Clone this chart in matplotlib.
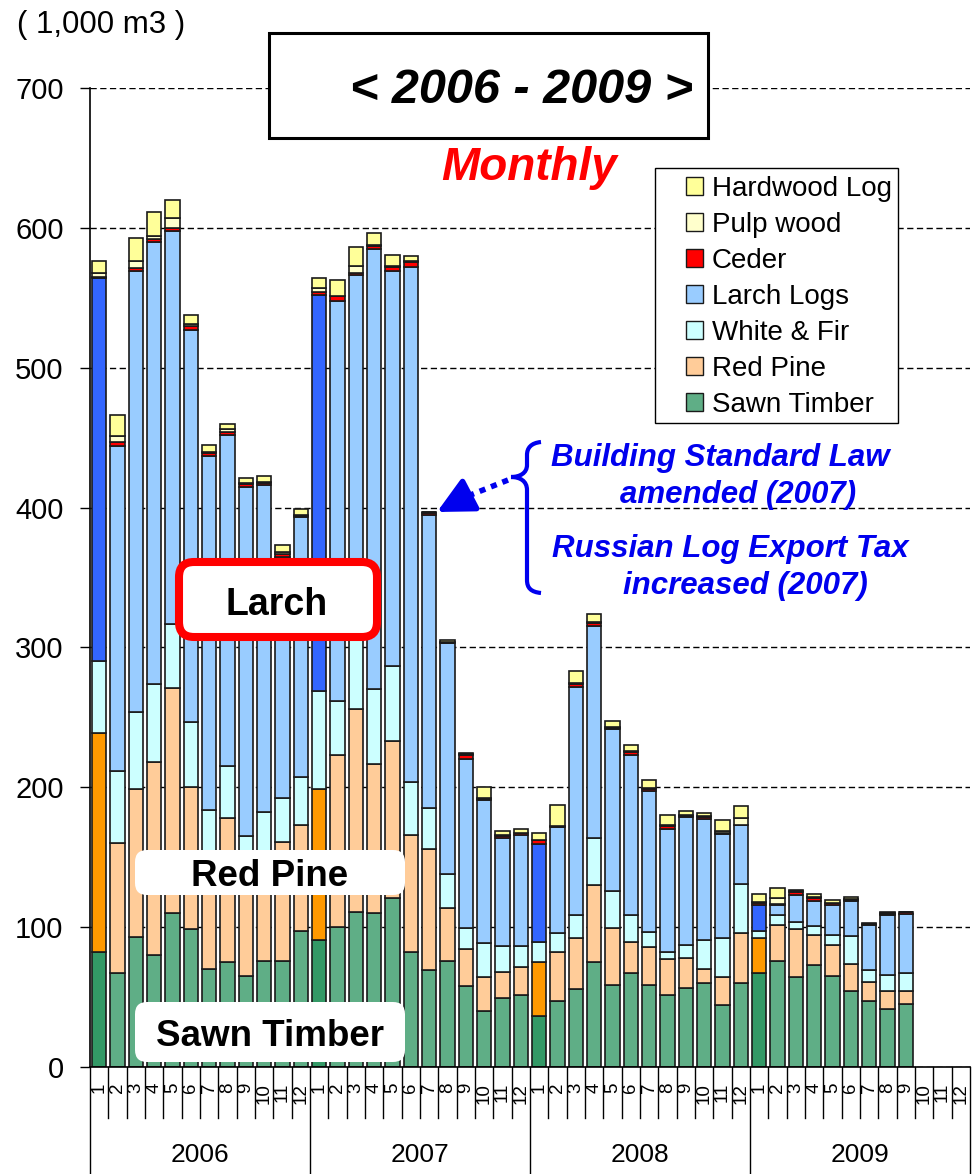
import numpy as np
import matplotlib
matplotlib.use('Agg')
import matplotlib.pyplot as plt
from matplotlib import patches
from matplotlib.path import Path

plt.rcParams['font.family'] = ['Liberation Sans', 'DejaVu Sans']

# data (1,000 m3), Jan 2006 .. Sep 2009
years = ['2006', '2007', '2008', '2009']
month_labels = [str(m) for m in range(1, 13)] * 4

sawn = [82, 67, 93, 80, 110, 99, 70, 75, 65, 76, 76, 97.5,
        91, 100, 111, 110, 121, 82, 69, 76, 58, 40, 49.5, 51.5,
        36.5, 47, 55.5, 75, 58.5, 67, 58.5, 51.5, 56.5, 60, 44.5, 60,
        67.5, 76, 64, 73, 65, 54.5, 47.5, 41.5, 45]
red_pine = [157, 93, 106, 138, 161, 101, 70, 103, 65, 69, 85, 75.5,
            108, 123, 145, 107, 112, 84, 87, 37.5, 26.5, 24.5, 18.5, 20,
            38.5, 35, 37, 55, 41, 22.5, 27, 26, 21.5, 10, 20, 36,
            25, 25.5, 34.5, 21.5, 22, 19.5, 13.5, 12.5, 9]
white_fir = [51, 52, 55, 56, 46, 47, 44, 37, 35, 37, 31.5, 34,
             70, 39, 62, 53, 54, 38, 29, 24.5, 15, 24, 18.5, 15,
             14.5, 14, 16, 34, 26.5, 19.5, 11, 5, 9, 21, 28, 35,
             4.5, 7.5, 5.5, 6.5, 7.5, 19.5, 8.5, 12, 13]
larch = [274, 232, 315, 316, 281, 280, 253, 237, 250, 234, 172.5, 186,
         283, 286, 248, 315, 282, 368, 210, 165, 120.5, 102.5, 77, 79.5,
         70, 75.5, 163, 151, 115.5, 114, 101, 87.5, 92, 86, 74, 42,
         18.5, 6.5, 19, 18, 21.5, 25.5, 32, 43, 42.5]
ceder = [1, 3, 2, 2, 2, 3, 2, 2, 1.5, 1.5, 2, 1,
         2, 3, 2, 2, 3, 3.5, 1, 0.5, 3, 0.5, 2, 1,
         2.5, 0.3, 2.5, 2.5, 1, 2.5, 1, 2.5, 0.5, 2, 1, 0.3,
         2, 1, 2, 2, 1, 0.3, 0.5, 0.5, 1]
pulp = [3, 4, 5, 2, 7, 1, 1, 2, 1, 1, 1, 1,
        3, 0.5, 5, 0.5, 0.5, 0.5, 0.5, 0.5, 0.5, 0.5, 0.5, 0.5,
        0.5, 0.3, 0.5, 0.5, 0.5, 0.5, 1, 0.5, 0.5, 0.5, 1, 5,
        0.5, 4.5, 1, 0.5, 0.5, 0.5, 0.5, 0.5, 0.3]
hardwood = [8, 15, 17, 17, 13, 7, 5, 4, 4, 4, 5, 4,
            7, 11, 13, 9, 8, 4, 0.5, 1.5, 1, 8.5, 2.5, 3,
            4.5, 15, 9, 6, 4.5, 4.5, 6, 7, 3, 2, 8, 8,
            6, 7, 0.8, 2, 2, 1.5, 0.7, 0.5, 0.3]

names = ['Sawn Timber', 'Red Pine', 'White & Fir', 'Larch Logs',
         'Ceder', 'Pulp wood', 'Hardwood Log']
layers = [sawn, red_pine, white_fir, larch, ceder, pulp, hardwood]
colors = ['#5fae86', '#ffcc99', '#ccffff', '#99ccff', '#ff0000', '#ffffcc', '#ffff99']
jan_colors = ['#339966', '#ff9900', '#ccffff', '#3366ff', '#ff0000', '#ffffcc', '#ffff99']

W, H = 978, 1174
fig = plt.figure(figsize=(W / 100, H / 100), dpi=100)
ax = fig.add_axes([90 / W, 1 - 1067 / H, 880 / W, 979 / H])
inch = fig.dpi_scale_trans


def px(x, y):
    """reference pixel (from top-left) -> inches for dpi_scale_trans"""
    return x / 100, (H - y) / 100


x = np.arange(len(sawn)) + 0.5
bottom = np.zeros(len(x))
handles = []
for name, vals, col, jcol in zip(names, layers, colors, jan_colors):
    cols = [jcol if i % 12 == 0 else col for i in range(len(x))]
    ax.bar(x, vals, 0.78, bottom=bottom, color=cols, edgecolor='#1a1a1a',
           linewidth=1.2, zorder=2)
    bottom += np.array(vals)
    handles.append(patches.Patch(facecolor=col, edgecolor='#1a1a1a', linewidth=1))

ax.set_xlim(0, 48)
ax.set_ylim(0, 700)
ax.set_yticks(range(0, 701, 100))
ax.set_xticks([])
ax.tick_params(axis='y', direction='out', length=7, width=1, pad=12, labelsize=21)
ax.yaxis.grid(True, color='black', linestyle=(0, (4.5, 2.5)), linewidth=1)
ax.set_axisbelow(True)
for s in ['top', 'right']:
    ax.spines[s].set_visible(False)
for s in ['left', 'bottom']:
    ax.spines[s].set_linewidth(1.2)

# month / year axis below the plot
xt = ax.get_xaxis_transform()
for i in range(49):
    depth = -0.11 if i % 12 == 0 else -0.052
    ax.plot([i, i], [0, depth], color='black', lw=1, transform=xt, clip_on=False)
for i, lab in enumerate(month_labels):
    ax.text(i + 0.5, -0.016, lab, rotation=90, ha='center', va='top',
            fontsize=13.5, transform=xt)
for k, yr in enumerate(years):
    ax.text(12 * k + 6, -0.09, yr, ha='center', va='center', fontsize=19, transform=xt)

ax.text(*px(17, 25), '( 1,000 m3 )', ha='left', va='center', fontsize=22.5,
        transform=inch)

# title box
ax.add_patch(patches.Rectangle(px(269, 138), 4.39, 1.05, transform=inch,
                               facecolor='white', edgecolor='black', lw=2.2,
                               clip_on=False, zorder=6))
ax.text(*px(521, 103), '< 2006 - 2009 >', ha='center', va='baseline',
        fontsize=35, fontweight='bold', fontstyle='italic', transform=inch, zorder=7)
ax.text(*px(529, 180), 'Monthly', ha='center', va='baseline', color='red',
        fontsize=33, fontweight='bold', fontstyle='italic', transform=inch, zorder=7)

# legend
ax.add_patch(patches.Rectangle(px(655, 423), 2.43, 2.55, transform=inch,
                               facecolor='white', edgecolor='black', lw=1,
                               clip_on=False, zorder=4.5))
ax.legend(handles[::-1], names[::-1], loc='upper left',
          bbox_to_anchor=px(686, 176), bbox_transform=inch, frameon=False,
          fontsize=20, handlelength=0.62, handleheight=0.62, handletextpad=0.3,
          labelspacing=0.36, borderpad=0, borderaxespad=0)

# labels inside the plot
ax.add_patch(patches.FancyBboxPatch(px(179, 637), 1.98, 0.75,
                                    boxstyle='round,pad=0,rounding_size=0.15',
                                    transform=inch, facecolor='white',
                                    edgecolor='red', lw=5.8, clip_on=False, zorder=6))
ax.text(*px(277, 615), 'Larch', ha='center', va='baseline', fontsize=27,
        fontweight='bold', transform=inch, zorder=7)
for (x0, y0, y1, yb, lab) in [(135, 850, 895, 886, 'Red Pine'),
                              (135, 1002, 1062, 1046, 'Sawn Timber')]:
    ax.add_patch(patches.FancyBboxPatch(px(x0, y1), 2.7, (y1 - y0) / 100,
                                        boxstyle='round,pad=0,rounding_size=0.12',
                                        transform=inch, facecolor='white',
                                        edgecolor='none', clip_on=False, zorder=6))
    ax.text(*px(270, yb), lab, ha='center', va='baseline', fontsize=26.5,
            fontweight='bold', transform=inch, zorder=7)

# annotation: brace, dotted arrow, text
blue = '#0000ee'
verts = [px(541, 442), px(531, 443), px(527, 448), px(527, 455),
         px(527, 465), px(527, 473), px(520, 477), px(511, 477),
         px(520, 477), px(527, 481), px(527, 490),
         px(527, 580), px(527, 588), px(531, 592), px(541, 593)]
codes = [Path.MOVETO, Path.CURVE4, Path.CURVE4, Path.CURVE4,
         Path.LINETO, Path.CURVE4, Path.CURVE4, Path.CURVE4,
         Path.CURVE4, Path.CURVE4, Path.CURVE4,
         Path.LINETO, Path.CURVE4, Path.CURVE4, Path.CURVE4]
ax.add_patch(patches.PathPatch(Path(verts, codes), transform=inch, fill=False,
                               edgecolor=blue, lw=3, clip_on=False, zorder=6))
sx, sy = px(508, 480)
hx, hy = px(458, 500)
ax.plot([sx, hx], [sy, hy], color=blue, lw=4, linestyle=(0, (1.1, 1.1)),
        transform=inch, clip_on=False, zorder=6, solid_capstyle='butt')
ax.annotate('', xy=px(437, 512), xytext=px(462, 499), xycoords=inch, textcoords=inch,
            arrowprops=dict(arrowstyle='-|>,head_length=1.0,head_width=0.5',
                            color=blue, lw=4, mutation_scale=22,
                            shrinkA=0, shrinkB=0), zorder=6)
for (cx, yb, lab) in [(720, 466, 'Building Standard Law'),
                      (738, 503, 'amended (2007)'),
                      (730, 557, 'Russian Log Export Tax'),
                      (745, 594, 'increased (2007)')]:
    ax.text(*px(cx, yb), lab, ha='center', va='baseline', fontsize=22.5,
            fontweight='bold', fontstyle='italic', color=blue, transform=inch, zorder=7)

fig.savefig('out.png', dpi=100)
